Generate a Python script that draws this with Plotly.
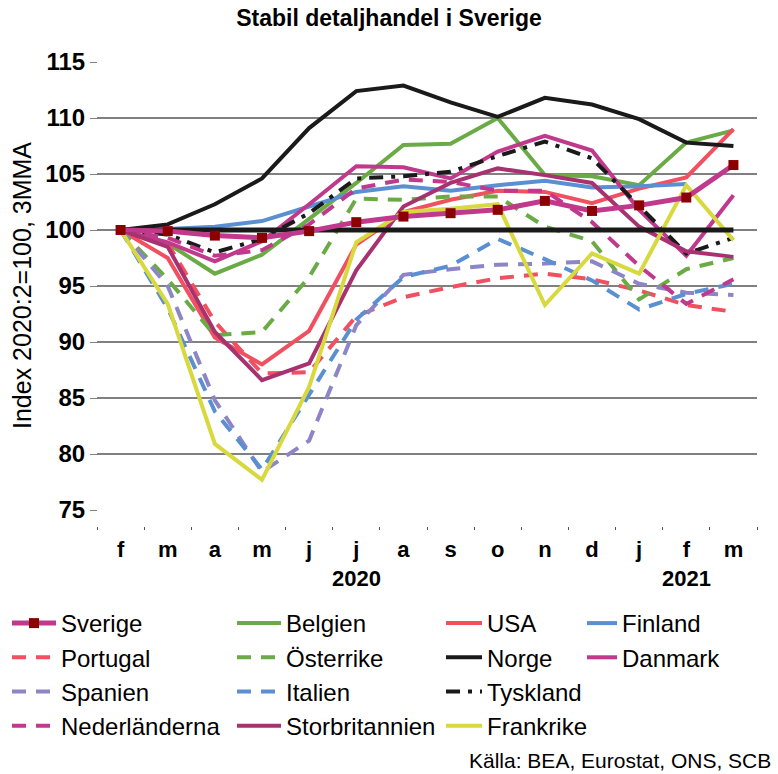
import plotly.graph_objects as go

months = ['f', 'm', 'a', 'm', 'j', 'j', 'a', 's', 'o', 'n', 'd', 'j', 'f', 'm']
x = list(range(len(months)))

sverige = [100, 99.9, 99.5, 99.3, 99.9, 100.7, 101.2, 101.5, 101.8, 102.6, 101.7, 102.2, 102.9, 105.8]
belgien = [100, 98.8, 96.1, 97.8, 101.0, 104.2, 107.6, 107.7, 110.0, 104.9, 104.8, 104.0, 107.8, 108.9]
usa = [100, 97.5, 90.4, 88.0, 91.0, 98.7, 101.6, 102.7, 103.5, 103.4, 102.4, 103.7, 104.7, 109.0]
finland = [100, 100.1, 100.3, 100.8, 102.1, 103.4, 103.9, 103.5, 104.0, 104.4, 103.8, 103.9, 104.1, None]
portugal = [100, 98.8, 91.8, 87.2, 87.3, 92.3, 94.0, 94.9, 95.7, 96.1, 95.6, 94.6, 93.3, 92.7]
osterrike = [100, 95.6, 90.6, 90.9, 95.8, 102.8, 102.7, 103.0, 103.0, 100.3, 99.0, 93.8, 96.5, 97.5]
norge = [100, 100.5, 102.3, 104.6, 109.1, 112.4, 112.9, 111.4, 110.1, 111.8, 111.2, 109.9, 107.8, 107.5]
danmark = [100, 98.9, 97.2, 99.0, 102.3, 105.7, 105.6, 104.6, 107.0, 108.4, 107.1, 101.8, 97.7, 103.1]
spanien = [100, 95.0, 84.8, 78.4, 81.2, 91.5, 96.0, 96.5, 96.9, 97.0, 97.2, 95.2, 94.4, 94.2]
italien = [100, 93.0, 83.8, 78.6, 85.3, 92.0, 95.8, 96.8, 99.2, 97.4, 95.5, 92.9, 94.3, 95.2]
tyskland = [100, 99.6, 98.0, 99.2, 101.5, 104.6, 104.8, 105.2, 106.6, 107.9, 106.4, 102.2, 97.9, 99.3]
nederlanderna = [100, 99.3, 97.7, 98.2, 100.5, 103.7, 104.5, 104.3, 103.5, 103.5, 100.7, 96.8, 93.4, 95.6]
storbritannien = [100, 98.5, 90.9, 86.6, 88.1, 96.4, 102.1, 104.2, 105.5, 104.9, 104.2, 100.3, 98.1, 97.6]
frankrike = [100, 93.4, 80.9, 77.7, 86.0, 98.9, 101.6, 101.9, 102.3, 93.3, 97.9, 96.1, 104.0, 99.1]
referens = [100] * len(months)

years = ['2020', '2021']
year_pos = [5, 12]

MAG = '#c0398c'
GRN = '#6aab46'
RED = '#f0505f'
BLU = '#5a8fd2'
PUR = '#8c85c6'
BLK = '#1a1a1a'
UK = '#a8316f'
YEL = '#d7d93e'
DASH = '14px,10px'
DASHDOT = '14px,8px,4px,8px'

FONT = 'Liberation Sans, Arial, sans-serif'

fig = go.Figure()

def add(name, y, color, dash='solid', width=4, legend='legend', rank=1):
    fig.add_trace(go.Scatter(
        x=x, y=y, name=name, mode='lines',
        line=dict(color=color, width=width, dash=dash),
        legend=legend, legendrank=rank, connectgaps=False))

add('Belgien', belgien, GRN, legend='legend2', rank=1)
add('USA', usa, RED, legend='legend3', rank=1)
add('Finland', finland, BLU, legend='legend4', rank=1)
add('Portugal', portugal, RED, DASH, legend='legend', rank=2)
add('Österrike', osterrike, GRN, DASH, legend='legend2', rank=2)
add('Norge', norge, BLK, legend='legend3', rank=2)
add('Danmark', danmark, MAG, legend='legend4', rank=2)
add('Spanien', spanien, PUR, DASH, legend='legend', rank=3)
add('Italien', italien, BLU, DASH, legend='legend2', rank=3)
add('Tyskland', tyskland, BLK, DASHDOT, legend='legend3', rank=3)
add('Nederländerna', nederlanderna, MAG, DASH, legend='legend', rank=4)
add('Storbritannien', storbritannien, UK, legend='legend2', rank=4)
add('Frankrike', frankrike, YEL, legend='legend3', rank=4)

fig.add_trace(go.Scatter(x=x, y=referens, mode='lines', showlegend=False,
                         line=dict(color=BLK, width=5), hoverinfo='skip'))

fig.add_trace(go.Scatter(
    x=x, y=sverige, name='Sverige', mode='lines+markers',
    line=dict(color=MAG, width=5),
    marker=dict(symbol='square', size=10, color='#8b0000'),
    legend='legend', legendrank=1))

H = 774
W = 778
legend_common = dict(xref='container', yref='container', xanchor='left', yanchor='top',
                     font=dict(family=FONT, size=24, color='#000'),
                     bgcolor='rgba(0,0,0,0)', traceorder='normal', tracegroupgap=0)
legend_y = 1 - 601 / H

fig.update_layout(
    width=W, height=H,
    margin=dict(l=97, r=21, t=62, b=248, autoexpand=False),
    plot_bgcolor='white', paper_bgcolor='white',
    font=dict(family=FONT, color='#000'),
    title=dict(text='<b>Stabil detaljhandel i Sverige</b>', x=0.5, xref='container', xanchor='center',
               y=1 - 18 / H, yref='container', yanchor='middle',
               font=dict(family=FONT, size=23, color='#000')),
    legend=dict(x=7 / W, y=legend_y, itemwidth=44, **legend_common),
    legend2=dict(x=232 / W, y=legend_y, itemwidth=44, **legend_common),
    legend3=dict(x=441 / W, y=legend_y, itemwidth=36, **legend_common),
    legend4=dict(x=582 / W, y=legend_y, itemwidth=30, **legend_common),
    showlegend=True,
)

fig.update_yaxes(
    range=[75, 115], dtick=5, tick0=75, domain=[16 / 464, 1],
    anchor='free', position=0,
    showgrid=True, gridcolor='#808080', gridwidth=1.5,
    zeroline=False, showline=False,
    ticks='outside', ticklen=7, tickcolor='#808080',
    tickfont=dict(family=FONT, size=24, color='#000', weight='bold'),
)

fig.update_xaxes(
    range=[-0.5, 13.5], domain=[0, 1], tickmode='array', tickvals=x, ticktext=months,
    anchor='free', position=0,
    showgrid=False, zeroline=False, showline=False, ticks='',
    tickfont=dict(family=FONT, size=22, color='#000', weight='bold'),
    ticklabelstandoff=8,
    minor=dict(ticks='outside', ticklen=3, tickwidth=1, tickcolor='#555', tick0=-0.5, dtick=1, showgrid=False),
)

# y-axis title
fig.add_annotation(x=(22 - 97) / 660, xref='paper', y=(526 - 286) / 464, yref='paper',
                   text='Index 2020:2=100, 3MMA', textangle=-90, showarrow=False,
                   font=dict(family=FONT, size=25, color='#000'), xanchor='center', yanchor='middle')

for yr, pos in zip(years, year_pos):
    fig.add_annotation(x=pos, xref='x', y=(526 - 578) / 464, yref='paper', text='<b>' + yr + '</b>',
                       showarrow=False, font=dict(family=FONT, size=22, color='#000'),
                       xanchor='center', yanchor='middle')

fig.add_annotation(x=(773 - 97) / 660, xref='paper', y=(526 - 760) / 464, yref='paper',
                   text='Källa: BEA, Eurostat, ONS, SCB', showarrow=False,
                   font=dict(family=FONT, size=21, color='#000'), xanchor='right', yanchor='middle')

fig.write_html('out.html', config={'displayModeBar': False},
               post_script="document.body.style.margin='0px';")
